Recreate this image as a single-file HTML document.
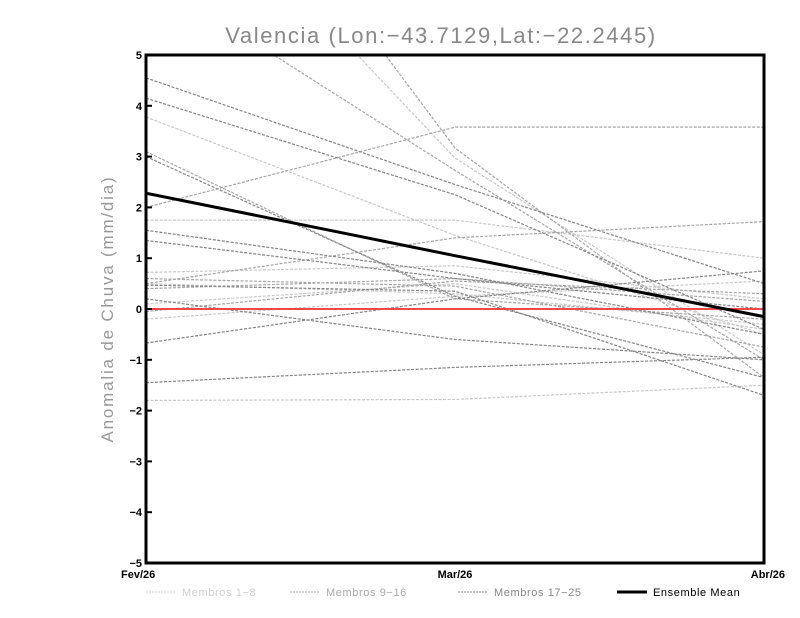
<!DOCTYPE html>
<html><head><meta charset="utf-8"><style>
body{margin:0;background:#fff;width:800px;height:618px;overflow:hidden}
svg{display:block;font-family:"Liberation Sans",sans-serif}
</style></head><body>
<svg id="chart" width="800" height="618">
<defs><clipPath id="pc"><rect x="146" y="55" width="618" height="508"/></clipPath></defs>
<text x="441" y="43" text-anchor="middle" font-size="22" letter-spacing="1.6" fill="#888">Valencia (Lon:−43.7129,Lat:−22.2445)</text>
<text transform="translate(113,309) rotate(-90)" text-anchor="middle" font-size="17" letter-spacing="1.8" fill="#999">Anomalia de Chuva (mm/dia)</text>
<g id="series" clip-path="url(#pc)"></g>
<g id="axes"></g>
<g id="legend"></g>
</svg>
<script>
const categories = ["Fev/26","Mar/26","Abr/26"];
const yTicks = [-5,-4,-3,-2,-1,0,1,2,3,4,5];
const ensembleMean = [2.28,1.05,-0.15];
const membersLight = [[3.78,1.45,-0.5],[1.75,1.75,1.0],[0.72,0.85,0.2],[-0.2,0.25,0.55],[-1.8,-1.78,-1.5],[9.4,2.97,-0.9],[0.5,0.3,-0.3],[0.1,0.5,-0.4]];
const membersMid = [[2.0,3.58,3.58],[6.6,2.73,-1.0],[11.3,3.17,-1.35],[3.1,0.2,-0.2],[0.5,1.4,1.72],[-0.05,0.55,0.3],[0.6,0.45,-0.75],[0.4,0.6,0.15]];
const membersDark = [[4.55,2.45,0.5],[4.15,2.25,-0.4],[3.0,0.25,-1.35],[1.55,0.7,-0.5],[1.35,0.6,0.0],[0.2,-0.6,-1.0],[-0.67,0.2,0.75],[-1.45,-1.15,-0.95],[0.47,0.35,-1.7]];
const legendLabels = ["Membros 1-8","Membros 9-16","Membros 17-25","Ensemble Mean"];

const NS="http://www.w3.org/2000/svg";
const X0=146,X1=764,Y0=563,Y1=55;
function xs(i){return X0+(X1-X0)*i/(categories.length-1);}
function ys(v){return Y0-(v+5)/10*(Y0-Y1);}
function mk(t,a,p){const e=document.createElementNS(NS,t);for(const k in a)e.setAttribute(k,a[k]);p.appendChild(e);return e;}
const S=document.getElementById('series'),A=document.getElementById('axes'),L=document.getElementById('legend');
function pts(arr){return arr.map((v,i)=>xs(i)+","+ys(v)).join(" ");}
function drawGroup(arr,col,name){arr.forEach((m,k)=>{const p=mk('polyline',{points:pts(m),fill:'none',stroke:col,'stroke-width':1.2,'stroke-dasharray':'3,1.5'},S);

});}
drawGroup(membersLight,'#c8c8c8','member-light');
drawGroup(membersMid,'#a6a6a6','member-mid');
drawGroup(membersDark,'#858585','member-dark');
const z=mk('line',{x1:X0,x2:X1,y1:ys(0),y2:ys(0),stroke:'#f04848','stroke-width':2},S);


const em=mk('polyline',{points:pts(ensembleMean),fill:'none',stroke:'#000','stroke-width':3},S);


const fr=mk('rect',{x:X0,y:Y1,width:X1-X0,height:Y0-Y1,fill:'none',stroke:'#000','stroke-width':3},A);


yTicks.forEach(v=>{mk('line',{x1:X0,x2:X0+6,y1:ys(v),y2:ys(v),stroke:'#000','stroke-width':2},A);
const t=mk('text',{x:X0-4,y:ys(v)+4,'text-anchor':'end','font-size':11,'font-weight':'bold'},A);t.textContent=String(v).replace('-','−');

});
categories.forEach((c,i)=>{const t=mk('text',{x:xs(i),y:578,'text-anchor':i==0?'start':(i==categories.length-1?'end':'middle'),'font-size':11,'font-weight':'bold'},A);
if(i==0)t.setAttribute('x',X0-25);
if(i==categories.length-1)t.setAttribute('x',X1+21);
t.textContent=c;

});
const lx=[146,290,458,617],lc=['#d0d0d0','#aaa','#888','#000'];
legendLabels.forEach((s,i)=>{mk('line',{x1:lx[i],x2:lx[i]+30,y1:592,y2:592,stroke:lc[i],'stroke-width':i==3?3:1,'stroke-dasharray':i==3?'':'2,1'},L);
const t=mk('text',{x:lx[i]+36,y:596,'font-size':11,'letter-spacing':0.6,fill:i==3?'#000':lc[i]},L);t.textContent=s.replace('-','−');

});
</script>
</body></html>
